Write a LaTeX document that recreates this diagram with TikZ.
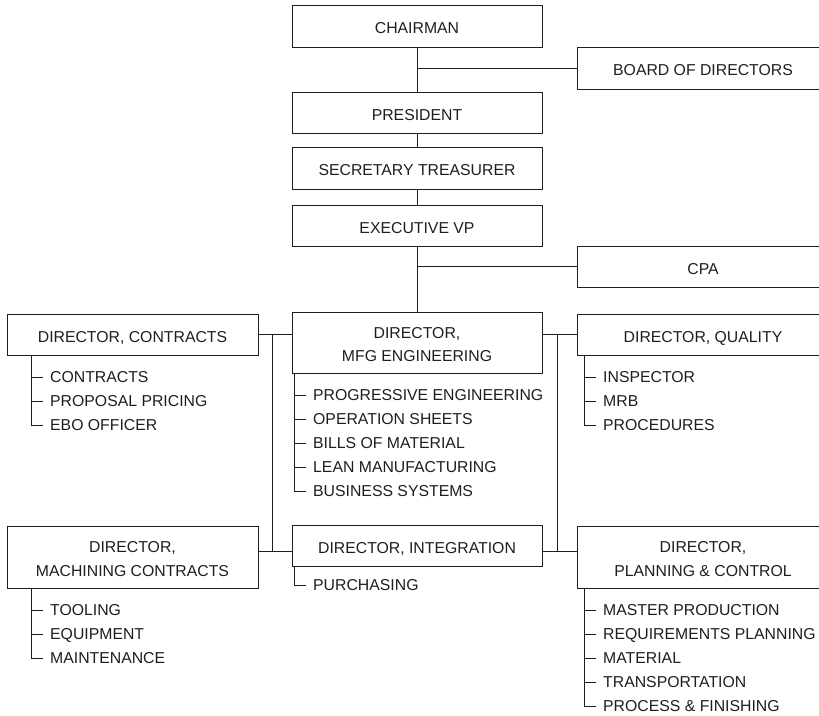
\documentclass[tikz,border=0pt]{standalone}
\usepackage{fontspec}
\setmainfont{Liberation Sans}
\usepackage{tikz}
\usepackage{xcolor}

\definecolor{ink}{HTML}{1E1E1E}
\newcommand{\topstrut}{\rule{0pt}{15pt}}

\begin{document}
\begin{tikzpicture}[x=1pt, y=-1pt, ink,
  box/.style={draw, line width=1pt, minimum height=41pt, minimum width=250pt, inner sep=0pt, align=center, font=\fontsize{15.8}{23.5}\selectfont},
  onebox/.style={box, text height=15pt, text depth=0pt},
  item/.style={anchor=west, inner xsep=7pt, inner ysep=0pt, text height=11.3pt, text depth=0pt, font=\fontsize{15.8}{19}\selectfont},
  link/.style={line width=0.8pt}]
\useasboundingbox (0,0) rectangle (819,715);

% top of the chart
\node[onebox, minimum height=42pt] (chair) at (417,26) {CHAIRMAN};
\node[onebox, minimum height=42pt, minimum width=252pt] (board) at (703,68) {BOARD OF DIRECTORS};
\node[onebox] (pres) at (417,112.5) {PRESIDENT};
\node[onebox, minimum height=42pt] (sec) at (417,168) {SECRETARY TREASURER};
\node[onebox] (exec) at (417,225.5) {EXECUTIVE VP};
\node[onebox, minimum width=252pt] (cpa) at (703,266.5) {CPA};

% directors
\node[onebox, minimum width=251pt] (ctr) at (132.5,334.5) {DIRECTOR, CONTRACTS};
\node[box, minimum height=61pt] (mfg) at (417,342.5) {\topstrut DIRECTOR,\\MFG ENGINEERING};
\node[onebox, minimum width=252pt] (qual) at (703,334.5) {DIRECTOR, QUALITY};
\node[box, minimum height=62pt, minimum width=251pt] (mach) at (132.5,557) {\topstrut DIRECTOR,\\MACHINING CONTRACTS};
\node[onebox] (integ) at (417,545.5) {DIRECTOR, INTEGRATION};
\node[box, minimum height=62pt, minimum width=252pt] (plan) at (703,557) {\topstrut DIRECTOR,\\PLANNING \& CONTROL};

% sub items
\node[item] (ct1) at (43,377) {CONTRACTS};
\node[item] (ct2) at (43,401) {PROPOSAL PRICING};
\node[item] (ct3) at (43,425) {EBO OFFICER};

\node[item] (mf1) at (306,395) {PROGRESSIVE ENGINEERING};
\node[item] (mf2) at (306,419) {OPERATION SHEETS};
\node[item] (mf3) at (306,443) {BILLS OF MATERIAL};
\node[item] (mf4) at (306,467) {LEAN MANUFACTURING};
\node[item] (mf5) at (306,491) {BUSINESS SYSTEMS};

\node[item] (qa1) at (596,377) {INSPECTOR};
\node[item] (qa2) at (596,401) {MRB};
\node[item] (qa3) at (596,425) {PROCEDURES};

\node[item] (mc1) at (43,610) {TOOLING};
\node[item] (mc2) at (43,634) {EQUIPMENT};
\node[item] (mc3) at (43,658) {MAINTENANCE};

\node[item] (in1) at (306,585) {PURCHASING};

\node[item] (pc1) at (596,610) {MASTER PRODUCTION};
\node[item] (pc2) at (596,634) {REQUIREMENTS PLANNING};
\node[item] (pc3) at (596,658) {MATERIAL};
\node[item] (pc4) at (596,682) {TRANSPORTATION};
\node[item] (pc5) at (596,706) {PROCESS \& FINISHING};

% main line
\draw[link] (chair) -- (pres);
\draw[link] (board.west) -- (board.west -| chair.south);
\draw[link] (pres) -- (sec);
\draw[link] (sec) -- (exec);
\draw[link] (exec) -- (mfg);
\draw[link] (cpa.west) -- (cpa.west -| exec.south);

% side buses
\coordinate (lbT) at (272,334.5);
\coordinate (lbB) at (272,551);
\coordinate (rbT) at (557,334.5);
\coordinate (rbB) at (557,551);
\draw[link] (ctr.east) -- (ctr.east -| mfg.west);
\draw[link] (lbT) -- (lbB);
\draw[link] (mach.east |- lbB) -- (integ.west |- lbB);
\draw[link] (mfg.east |- rbT) -- (qual.west);
\draw[link] (rbT) -- (rbB);
\draw[link] (integ.east |- rbB) -- (plan.west |- rbB);

% lists
\draw[link] ([xshift=25pt]ctr.south west) |- (ct1.west);
\draw[link] ([xshift=25pt]ctr.south west) |- (ct2.west);
\draw[link] ([xshift=25pt]ctr.south west) |- (ct3.west);

\draw[link] ([xshift=3pt]mfg.south west) |- (mf1.west);
\draw[link] ([xshift=3pt]mfg.south west) |- (mf2.west);
\draw[link] ([xshift=3pt]mfg.south west) |- (mf3.west);
\draw[link] ([xshift=3pt]mfg.south west) |- (mf4.west);
\draw[link] ([xshift=3pt]mfg.south west) |- (mf5.west);

\draw[link] ([xshift=8pt]qual.south west) |- (qa1.west);
\draw[link] ([xshift=8pt]qual.south west) |- (qa2.west);
\draw[link] ([xshift=8pt]qual.south west) |- (qa3.west);

\draw[link] ([xshift=25pt]mach.south west) |- (mc1.west);
\draw[link] ([xshift=25pt]mach.south west) |- (mc2.west);
\draw[link] ([xshift=25pt]mach.south west) |- (mc3.west);

\draw[link] ([xshift=3pt]integ.south west) |- (in1.west);

\draw[link] ([xshift=8pt]plan.south west) |- (pc1.west);
\draw[link] ([xshift=8pt]plan.south west) |- (pc2.west);
\draw[link] ([xshift=8pt]plan.south west) |- (pc3.west);
\draw[link] ([xshift=8pt]plan.south west) |- (pc4.west);
\draw[link] ([xshift=8pt]plan.south west) |- (pc5.west);
\end{tikzpicture}
\end{document}
